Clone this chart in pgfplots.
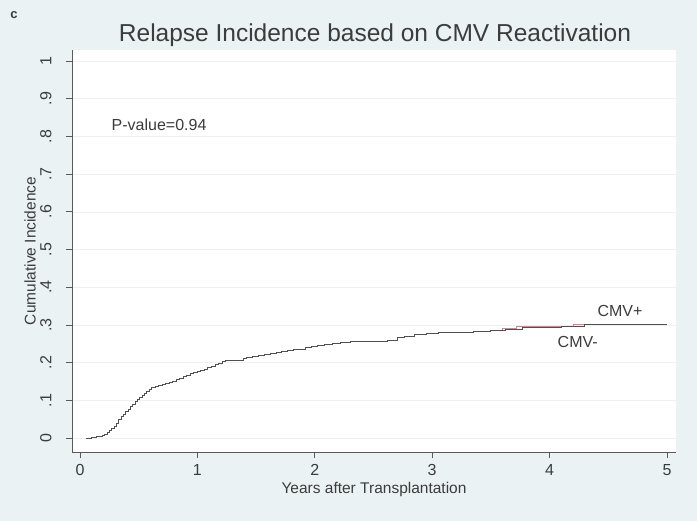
\documentclass[border=0pt]{standalone}
\usepackage{pgfplots}
\pgfplotsset{compat=1.18}
\usepackage{fontspec}
\setmainfont{Liberation Sans}
\definecolor{bgcol}{RGB}{234,242,243}
\definecolor{txt}{RGB}{60,60,60}
\definecolor{axcol}{RGB}{90,90,90}
\definecolor{cmvneg}{RGB}{80,80,80}
\definecolor{cmvpos}{RGB}{220,130,140}
\begin{document}
\begin{tikzpicture}[x=1pt,y=1pt]
\fill[bgcol] (0,0) rectangle (697,521);
\node[txt,font=\bfseries\fontsize{13}{15}\selectfont] at (14,506) {c};
\node[txt,font=\fontsize{24.5}{28}\selectfont] at (375,486) {Relapse Incidence based on CMV Reactivation};
\begin{axis}[
  at={(72pt,69pt)}, anchor=south west,
  scale only axis, width=604pt, height=402pt,
  xmin=-0.068, xmax=5.077, ymin=-0.037, ymax=1.029,
  axis background/.style={fill=white},
  axis lines*=left,
  axis line style={axcol, line width=0.8pt},
  every tick/.style={axcol, line width=0.6pt},
  tick align=outside, major tick length=6pt,
  xtick={0,1,2,3,4,5}, xticklabels={0,1,2,3,4,5},
  ytick={0,0.1,...,1.0},
  yticklabels={0,.1,.2,.3,.4,.5,.6,.7,.8,.9,1},
  ticklabel style={txt, font=\fontsize{16}{18}\selectfont},
  yticklabel style={rotate=90, anchor=south},
  yticklabel shift=11pt,
  xticklabel shift=3pt,
  ymajorgrids, grid style={gray!12, line width=0.5pt},
  xlabel={Years after Transplantation},
  ylabel={Cumulative Incidence},
  every axis x label/.style={at={(axis description cs:0.5,-0.0945)}, anchor=center, txt, font=\fontsize{15.5}{18}\selectfont},
  every axis y label/.style={at={(axis description cs:-0.0695,0.5)}, rotate=90, anchor=center, txt, font=\fontsize{15.5}{18}\selectfont},
  clip=false,
]
\addplot[const plot, cmvpos, line width=0.9pt] coordinates {
(0.05,0) (0.10,0.002) (0.14,0.003) (0.17,0.004) (0.19,0.006) (0.21,0.010)
(0.23,0.014) (0.25,0.019) (0.27,0.025) (0.29,0.032) (0.31,0.040) (0.33,0.048)
(0.35,0.056) (0.37,0.063) (0.39,0.070) (0.41,0.077) (0.43,0.084) (0.45,0.090)
(0.47,0.096) (0.49,0.102) (0.51,0.108) (0.53,0.114) (0.55,0.119) (0.57,0.124)
(0.59,0.129) (0.61,0.133) (0.64,0.136) (0.67,0.139) (0.70,0.142) (0.73,0.145)
(0.76,0.148) (0.79,0.151) (0.82,0.155) (0.85,0.159) (0.88,0.163) (0.91,0.167)
(0.94,0.170) (0.97,0.173) (1.00,0.176) (1.03,0.179) (1.06,0.182) (1.09,0.186)
(1.12,0.190) (1.15,0.194) (1.18,0.198) (1.21,0.203) (1.24,0.206) (1.36,0.207)
(1.39,0.211) (1.42,0.215) (1.47,0.217) (1.52,0.219) (1.57,0.222) (1.62,0.224)
(1.67,0.227) (1.72,0.229) (1.77,0.232) (1.82,0.234) (1.87,0.236) (1.92,0.239)
(1.97,0.242) (2.02,0.246) (2.08,0.249) (2.15,0.251) (2.22,0.253) (2.30,0.255)
(2.40,0.256) (2.50,0.257) (2.62,0.260) (2.70,0.266) (2.76,0.270) (2.85,0.274)
(2.95,0.278) (3.05,0.280) (3.20,0.281) (3.35,0.283) (3.50,0.285) (3.60,0.290)
(3.72,0.297) (4.20,0.300) (5.00,0.300)
};
\addplot[const plot, cmvneg, line width=0.9pt] coordinates {
(0.05,0) (0.10,0.002) (0.14,0.003) (0.17,0.004) (0.19,0.006) (0.21,0.010)
(0.23,0.014) (0.25,0.019) (0.27,0.025) (0.29,0.032) (0.31,0.040) (0.33,0.048)
(0.35,0.056) (0.37,0.063) (0.39,0.070) (0.41,0.077) (0.43,0.084) (0.45,0.090)
(0.47,0.096) (0.49,0.102) (0.51,0.108) (0.53,0.114) (0.55,0.119) (0.57,0.124)
(0.59,0.129) (0.61,0.133) (0.64,0.136) (0.67,0.139) (0.70,0.142) (0.73,0.145)
(0.76,0.148) (0.79,0.151) (0.82,0.155) (0.85,0.159) (0.88,0.163) (0.91,0.167)
(0.94,0.170) (0.97,0.173) (1.00,0.176) (1.03,0.179) (1.06,0.182) (1.09,0.186)
(1.12,0.190) (1.15,0.194) (1.18,0.198) (1.21,0.203) (1.24,0.206) (1.36,0.207)
(1.39,0.211) (1.42,0.215) (1.47,0.217) (1.52,0.219) (1.57,0.222) (1.62,0.224)
(1.67,0.227) (1.72,0.229) (1.77,0.232) (1.82,0.234) (1.87,0.236) (1.92,0.239)
(1.97,0.242) (2.02,0.246) (2.08,0.249) (2.15,0.251) (2.22,0.253) (2.30,0.255)
(2.40,0.256) (2.50,0.257) (2.62,0.260) (2.70,0.266) (2.76,0.270) (2.85,0.274)
(2.95,0.278) (3.05,0.280) (3.20,0.281) (3.35,0.283) (3.50,0.285) (3.62,0.288)
(3.77,0.292) (3.95,0.294) (4.10,0.296) (4.30,0.300) (5.00,0.300)
};
\node[txt, anchor=west, font=\fontsize{16}{18}\selectfont] at (axis cs:0.24,0.83) {P-value=0.94};
\node[txt, font=\fontsize{16}{18}\selectfont] at (axis cs:4.6,0.338) {CMV+};
\node[txt, font=\fontsize{16}{18}\selectfont] at (axis cs:4.24,0.255) {CMV-};
\end{axis}
\pgfresetboundingbox
\useasboundingbox (0,0) rectangle (697,521);
\end{tikzpicture}
\end{document}
